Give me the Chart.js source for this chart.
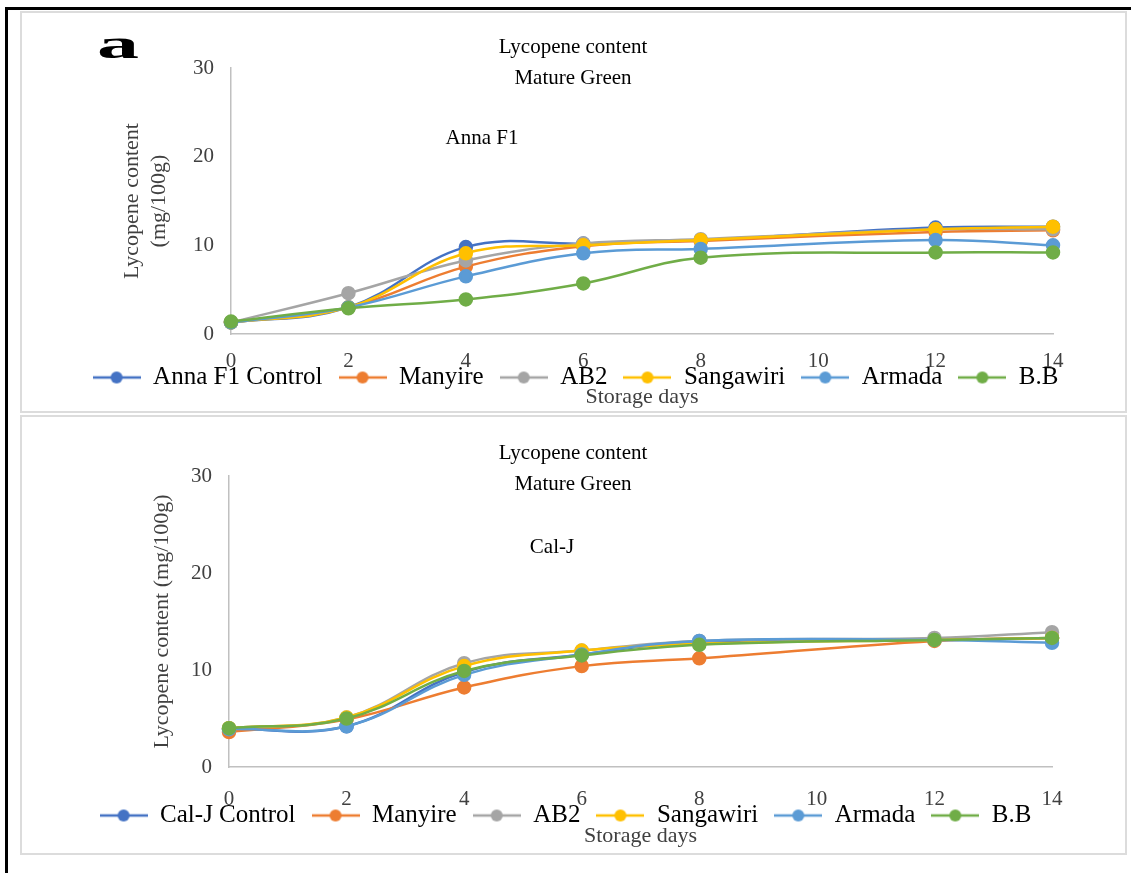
<!DOCTYPE html>
<html>
<head>
<meta charset="utf-8">
<script src="https://cdn.jsdelivr.net/npm/chart.js@4/dist/chart.umd.min.js"></script>
<style>
  body { margin: 0; background: #fff; width: 1131px; height: 873px; position: relative; overflow: hidden; }
  .frame { position: absolute; left: 5px; top: 7px; width: 1140px; height: 880px; border-left: 3px solid #000; border-top: 3px solid #000; }
  .panel { position: absolute; left: 20px; border: 2px solid #dcdcdc; background: #fff; }
  #p1 { top: 11px; width: 1103px; height: 398px; }
  #p2 { top: 415px; width: 1103px; height: 436px; }
  canvas { display: block; }
</style>
</head>
<body>
<div class="frame"></div>
<div class="panel" id="p1"><canvas id="annaChart" width="1103" height="398"></canvas></div>
<div class="panel" id="p2"><canvas id="calChart" width="1103" height="436"></canvas></div>
<script>
// storage days (x axis)
const days = [0, 2, 4, 6, 8, 12, 14];

// Anna F1 - lycopene (mg/100g)
const annaNames = ['Anna F1 Control', 'Manyire', 'AB2', 'Sangawiri', 'Armada', 'B.B'];
const annaControl = [1.3, 3.0, 9.8, 10.2, 10.6, 12.0, 12.1];
const annaManyire = [1.3, 3.0, 7.6, 9.9, 10.5, 11.5, 11.7];
const annaAB2 = [1.3, 4.6, 8.3, 10.2, 10.7, 11.8, 11.8];
const annaSangawiri = [1.3, 3.0, 9.1, 10.0, 10.6, 11.8, 12.1];
const annaArmada = [1.3, 3.0, 6.5, 9.1, 9.6, 10.6, 10.0];
const annaBB = [1.4, 2.9, 3.9, 5.7, 8.6, 9.2, 9.2];

// Cal-J - lycopene (mg/100g)
const calNames = ['Cal-J Control', 'Manyire', 'AB2', 'Sangawiri', 'Armada', 'B.B'];
const calControl = [3.9, 4.2, 9.8, 11.6, 12.9, 13.1, 13.3];
const calManyire = [3.6, 4.9, 8.2, 10.4, 11.2, 13.0, 13.3];
const calAB2 = [4.0, 5.1, 10.7, 12.0, 13.0, 13.3, 13.9];
const calSangawiri = [4.0, 5.1, 10.4, 12.0, 12.7, 13.1, 13.3];
const calArmada = [3.9, 4.2, 9.5, 11.6, 13.0, 13.1, 12.8];
const calBB = [4.0, 5.0, 9.9, 11.5, 12.6, 13.1, 13.3];

const colors = ['#4472C4', '#ED7D31', '#A5A5A5', '#FFC000', '#5B9BD5', '#70AD47'];
const serif = '"Liberation Serif", "Times New Roman", serif';

// little line-with-dot image for the legend, like excel
function legendMark(color) {
  const c = document.createElement('canvas');
  c.width = 48; c.height = 14;
  const g = c.getContext('2d');
  g.strokeStyle = color; g.lineWidth = 2.5;
  g.beginPath(); g.moveTo(0, 7); g.lineTo(48, 7); g.stroke();
  g.fillStyle = color;
  g.beginPath(); g.arc(24, 7, 6, 0, Math.PI * 2); g.fill();
  return c;
}

const extraText = {
  id: 'extraText',
  // excel puts the legend over the tick labels, so move it there after layout
  afterLayout(chart, args, opts) {
    const lg = chart.legend;
    if (!lg || opts.legendTop == null) return;
    lg.update(chart.width, chart.height, { left: 0, top: 0, right: 0, bottom: 0 });
    lg.left = opts.legendLeft || 0;
    lg.right = lg.left + chart.width;
    lg.top = opts.legendTop;
    lg.bottom = lg.top + lg.height;
  },
  afterDraw(chart, args, opts) {
    const ctx = chart.ctx;
    (opts.items || []).forEach(t => {
      ctx.save();
      ctx.fillStyle = t.color || '#000';
      ctx.font = t.font;
      ctx.textAlign = 'center';
      ctx.textBaseline = 'middle';
      ctx.translate(t.x, t.y);
      if (t.sx) ctx.scale(t.sx, 1);
      ctx.fillText(t.text, 0, 0);
      ctx.restore();
    });
  }
};

function makeChart(id, names, series, lay, yTitle, texts) {
  const datasets = series.map((vals, i) => ({
    label: names[i],
    data: days.map((d, j) => ({ x: d, y: vals[j] })),
    borderColor: colors[i],
    backgroundColor: colors[i],
    pointBackgroundColor: colors[i],
    pointBorderColor: colors[i],
    borderWidth: 2.5,
    pointRadius: 6,
    tension: 0.4,
    clip: false,
    order: series.length - i
  }));

  return new Chart(document.getElementById(id), {
    type: 'line',
    data: { datasets },
    plugins: [extraText],
    options: {
      responsive: false,
      animation: false,
      layout: { padding: { left: lay.padL, right: lay.padR, top: lay.padT, bottom: lay.padB } },
      scales: {
        x: {
          type: 'linear', min: 0, max: 14,
          grid: { display: false, drawTicks: false },
          border: { color: '#c0c0c0', width: 1.5 },
          ticks: { stepSize: 2, padding: lay.xTickPad, color: '#404040', font: { family: serif, size: 21 } },
          title: { display: true, text: 'Storage days', color: '#404040', padding: 0, font: { family: serif, size: 22, lineHeight: 1.25 } },
          afterFit: s => { s.height = lay.xH; }
        },
        y: {
          min: 0, max: 30,
          grid: { display: false, drawTicks: false },
          border: { color: '#c0c0c0', width: 1.5 },
          ticks: { stepSize: 10, padding: 17, color: '#404040', font: { family: serif, size: 21 } },
          title: { display: true, text: yTitle, color: '#404040', padding: { top: lay.yTitlePad, bottom: 0 }, font: { family: serif, size: 22, lineHeight: 1.25 } },
          afterFit: s => { s.width = lay.yW; }
        }
      },
      plugins: {
        title: { display: false },
        tooltip: { enabled: false },
        legend: {
          position: 'top',
          maxHeight: 51,
          labels: {
            usePointStyle: true,
            pointStyleWidth: 48,
            padding: 16,
            color: '#000',
            font: { family: serif, size: 25 },
            sort: (a, b) => a.datasetIndex - b.datasetIndex,
            generateLabels: chart => chart.data.datasets.map((ds, i) => ({
              text: ds.label,
              datasetIndex: i,
              fillStyle: ds.borderColor,
              strokeStyle: ds.borderColor,
              fontColor: '#000',
              lineWidth: 0,
              hidden: false,
              pointStyle: legendMark(ds.borderColor)
            }))
          }
        },
        extraText: { items: texts, legendTop: lay.legendTop, legendLeft: lay.legendLeft }
      }
    }
  });
}

const titleFont = '21px ' + serif;

makeChart('annaChart', annaNames,
  [annaControl, annaManyire, annaAB2, annaSangawiri, annaArmada, annaBB],
  { padL: 77, padR: 72, padT: 4, padB: 0, yW: 132, xH: 77, xTickPad: 15, yTitlePad: 19, legendTop: 336, legendLeft: 2 },
  ['Lycopene content', '(mg/100g)'],
  [
    { text: 'a', x: 96, y: 34, font: 'bold 42px ' + serif, sx: 2.0 },
    { text: 'Lycopene content', x: 551, y: 34, font: titleFont },
    { text: 'Mature Green', x: 551, y: 65, font: titleFont },
    { text: 'Anna F1', x: 460, y: 125, font: titleFont }
  ]);

makeChart('calChart', calNames,
  [calControl, calManyire, calAB2, calSangawiri, calArmada, calBB],
  { padL: 78, padR: 73, padT: 8, padB: 3, yW: 129, xH: 83, xTickPad: 20, yTitlePad: 48, legendTop: 370, legendLeft: -8 },
  'Lycopene content (mg/100g)',
  [
    { text: 'Lycopene content', x: 551, y: 36, font: titleFont },
    { text: 'Mature Green', x: 551, y: 67, font: titleFont },
    { text: 'Cal-J', x: 530, y: 130, font: titleFont }
  ]);
</script>
</body>
</html>
